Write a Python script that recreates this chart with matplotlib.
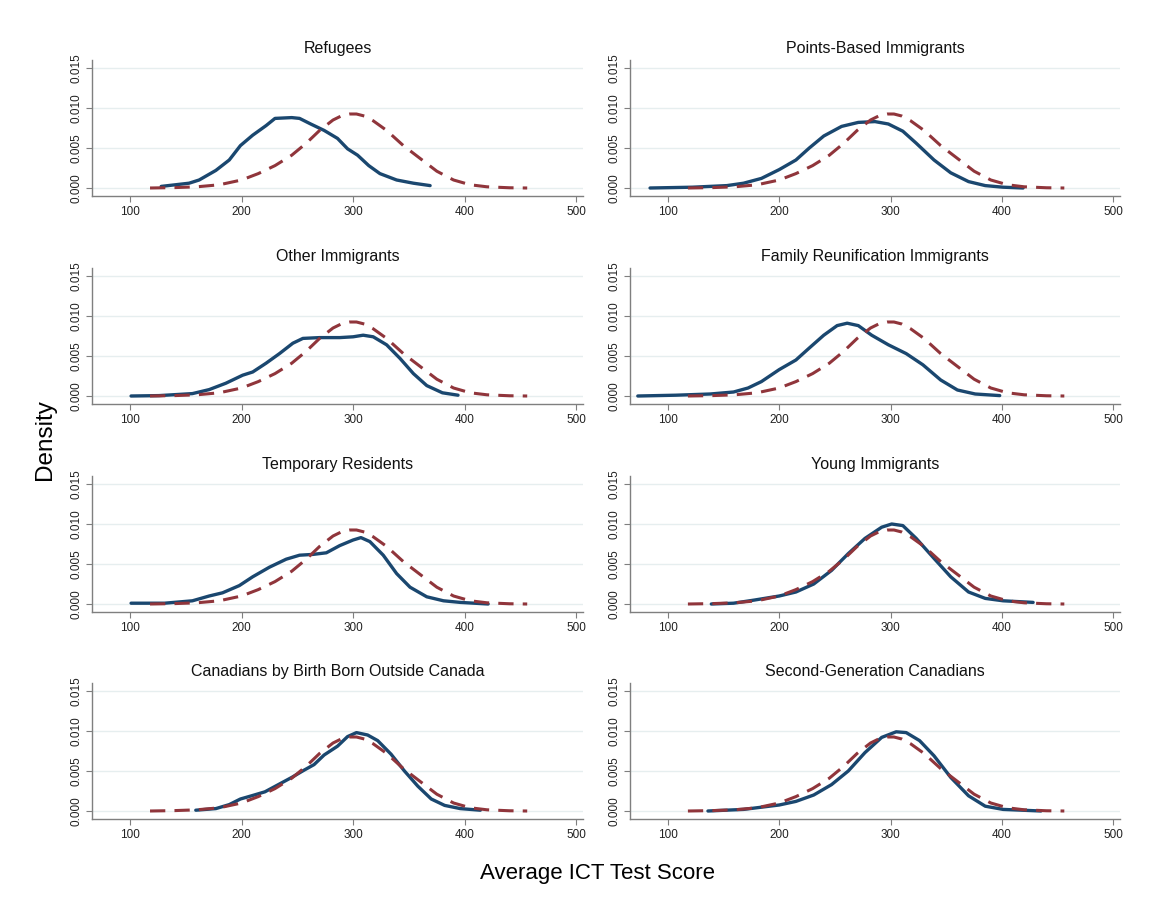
import matplotlib
matplotlib.use("Agg")
import matplotlib.pyplot as plt

plt.rcParams['font.family'] = ['Liberation Sans', 'DejaVu Sans']

titles = ["Refugees", "Points-Based Immigrants",
          "Other Immigrants", "Family Reunification Immigrants",
          "Temporary Residents", "Young Immigrants",
          "Canadians by Birth Born Outside Canada", "Second-Generation Canadians"]

# Reference (dashed) density, same in every panel; y in units of 0.001
ref_x = [118, 140, 160, 180, 200, 215, 230, 245, 258, 270, 282, 290, 297, 303,
         310, 318, 330, 345, 360, 375, 390, 405, 420, 440, 456]
ref_y = [0.0, 0.05, 0.15, 0.4, 1.0, 1.8, 2.8, 4.1, 5.6, 7.2, 8.5, 9.05, 9.25, 9.25,
         9.0, 8.4, 7.2, 5.3, 3.7, 2.1, 1.0, 0.4, 0.15, 0.03, 0.0]

refugees_x = [128, 153, 162, 177, 189, 199, 210, 222, 230, 245, 252, 262, 274,
              286, 295, 304, 314, 324, 339, 354, 369]
refugees_y = [0.2, 0.6, 1.0, 2.2, 3.5, 5.3, 6.6, 7.8, 8.7, 8.8, 8.7, 8.0, 7.2,
              6.2, 4.9, 4.1, 2.8, 1.8, 1.0, 0.6, 0.3]

points_x = [84, 122, 153, 168, 184, 200, 215, 227, 240, 256, 271, 286, 298,
            311, 323, 339, 354, 370, 385, 401, 419]
points_y = [0.0, 0.1, 0.3, 0.6, 1.2, 2.3, 3.5, 5.0, 6.5, 7.7, 8.2, 8.3, 8.0,
            7.1, 5.6, 3.5, 1.9, 0.8, 0.3, 0.1, 0.0]

other_x = [101, 126, 156, 171, 186, 201, 210, 222, 234, 246, 255, 270, 288,
           300, 309, 318, 330, 342, 354, 366, 380, 394]
other_y = [0.0, 0.05, 0.3, 0.8, 1.6, 2.6, 3.0, 4.1, 5.3, 6.6, 7.2, 7.3, 7.3,
           7.4, 7.6, 7.4, 6.4, 4.7, 2.8, 1.3, 0.4, 0.1]

family_x = [73, 107, 138, 159, 172, 184, 200, 215, 227, 240, 252, 261, 271,
            283, 298, 314, 329, 345, 360, 376, 398]
family_y = [0.0, 0.1, 0.25, 0.5, 1.0, 1.8, 3.3, 4.5, 6.0, 7.6, 8.8, 9.1, 8.8,
            7.6, 6.4, 5.3, 3.9, 2.0, 0.75, 0.25, 0.05]

temp_x = [101, 131, 156, 171, 183, 198, 210, 225, 240, 252, 264, 276, 288,
          300, 307, 315, 327, 339, 351, 366, 381, 396, 421]
temp_y = [0.1, 0.1, 0.4, 1.0, 1.4, 2.3, 3.4, 4.6, 5.6, 6.1, 6.2, 6.4, 7.3,
          8.0, 8.3, 7.8, 6.1, 3.8, 2.1, 0.9, 0.4, 0.2, 0.0]

young_x = [139, 159, 178, 200, 215, 231, 247, 262, 277, 292, 301, 311, 323,
           339, 354, 370, 385, 401, 428]
young_y = [0.0, 0.1, 0.5, 1.0, 1.5, 2.5, 4.2, 6.3, 8.2, 9.6, 10.0, 9.8, 8.2,
           5.7, 3.4, 1.5, 0.7, 0.4, 0.2]

bybirth_x = [159, 177, 189, 199, 209, 221, 233, 245, 256, 265, 274, 286, 295,
             303, 313, 322, 334, 346, 358, 370, 382, 396, 414]
bybirth_y = [0.1, 0.3, 0.8, 1.5, 1.9, 2.4, 3.3, 4.2, 5.1, 5.8, 7.0, 8.1, 9.3,
             9.8, 9.5, 8.8, 7.1, 5.0, 3.1, 1.5, 0.7, 0.3, 0.1]

second_x = [136, 168, 200, 215, 231, 247, 262, 277, 292, 305, 314, 326, 339,
            354, 370, 385, 401, 435]
second_y = [0.0, 0.2, 0.75, 1.2, 2.0, 3.3, 5.0, 7.3, 9.2, 9.9, 9.8, 8.8, 6.9,
            4.2, 1.9, 0.6, 0.2, 0.0]

group_x = [refugees_x, points_x, other_x, family_x, temp_x, young_x, bybirth_x, second_x]
group_y = [refugees_y, points_y, other_y, family_y, temp_y, young_y, bybirth_y, second_y]

BLUE = "#1a476f"
RED = "#90353b"
GRID = "#e6eeef"
SPINE = "#7f7f7f"

W, H = 1151, 907
fig = plt.figure(figsize=(W / 100, H / 100), dpi=100)

col_left = [92, 630]
col_right = [583, 1120]
row_top = [60, 268, 476, 683]
ax_h = 136

for i in range(8):
    r, c = divmod(i, 2)
    x0 = col_left[c] / W
    w = (col_right[c] - col_left[c]) / W
    y0 = (H - row_top[r] - ax_h) / H
    ax = fig.add_axes([x0, y0, w, ax_h / H])
    ax.set_xlim(66, 506)
    ax.set_ylim(-0.001, 0.016)
    ax.set_yticks([0.0, 0.005, 0.010, 0.015])
    ax.set_yticklabels(["0.000", "0.005", "0.010", "0.015"], rotation=90,
                       va="center", fontsize=8.5)
    ax.set_xticks([100, 200, 300, 400, 500])
    ax.set_xticklabels(["100", "200", "300", "400", "500"], fontsize=8.5)
    ax.grid(axis="y", color=GRID, linewidth=1.0)
    ax.set_axisbelow(True)
    for s in ["top", "right"]:
        ax.spines[s].set_visible(False)
    for s in ["left", "bottom"]:
        ax.spines[s].set_color(SPINE)
        ax.spines[s].set_linewidth(1.0)
    ax.tick_params(axis="both", colors=SPINE, length=4, width=0.8,
                   labelcolor="#222222", pad=3)
    ax.plot(ref_x, [v / 1000 for v in ref_y], color=RED, lw=2.2,
            dashes=(5, 3), dash_capstyle="butt", solid_joinstyle="round", zorder=3)
    ax.plot(group_x[i], [v / 1000 for v in group_y[i]], color=BLUE, lw=2.4,
            solid_joinstyle="round", solid_capstyle="round", zorder=2)
    ax.set_title(titles[i], fontsize=11.5, pad=5, color="#111111")

fig.text(45 / W, 1 - 440 / H, "Density", rotation=90, fontsize=17.5,
         ha="center", va="center")
fig.text(597 / W, 1 - 873 / H, "Average ICT Test Score", fontsize=16,
         ha="center", va="center")

fig.savefig("out.png", dpi=100, facecolor="white")
